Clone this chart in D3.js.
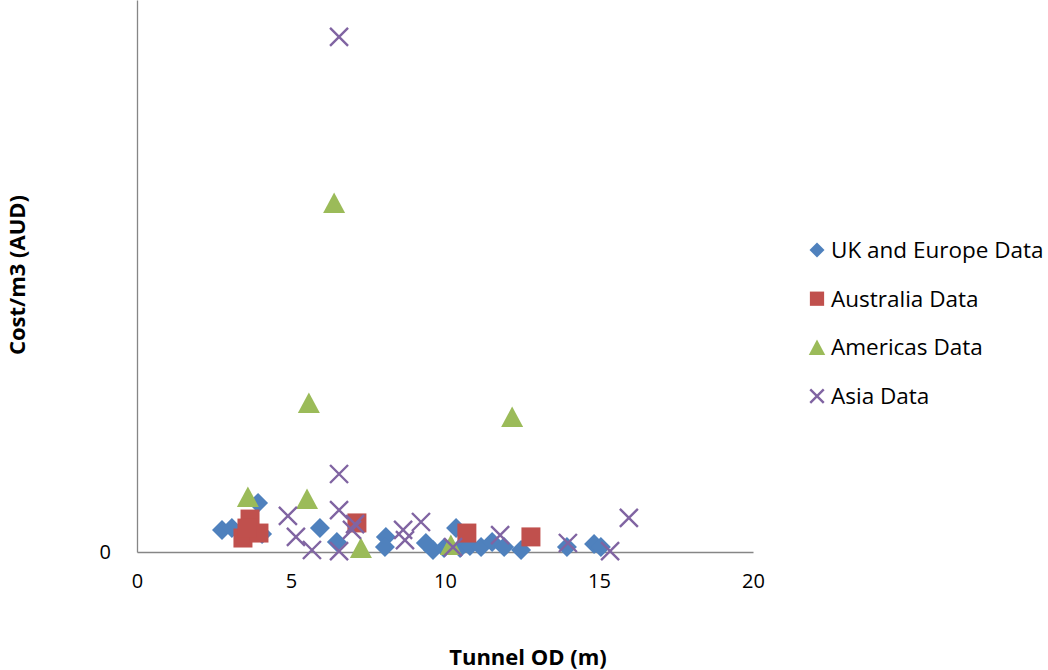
<!DOCTYPE html>
<html>
<head>
<meta charset="utf-8">
<script src="https://cdn.jsdelivr.net/npm/d3@7"></script>
<style>
  html, body { margin: 0; padding: 0; background: #fff; }
  svg { display: block; }
  text { font-family: "Open Sans", "Noto Sans", sans-serif; fill: #000; }
</style>
</head>
<body>
<svg id="chart" width="1048" height="670"></svg>
<script>
// Tunnel outside diameter (m) and cost per cubic metre (AUD), by region
const ukEuropeOD   = [2.76, 3.08, 3.93, 4.06, 5.94, 6.49, 8.08, 8.05, 9.38, 9.61, 9.97, 10.36, 10.49, 10.81, 11.17, 11.53, 11.92, 12.47, 13.96, 14.84, 15.06];
const ukEuropeCost = [120, 130, 266, 98, 130, 54, 82, 27, 49, 11, 22, 130, 22, 33, 27, 54, 27, 11, 27, 43, 27];

const australiaOD   = [3.44, 3.67, 3.96, 3.57, 7.14, 10.71, 12.79];
const australiaCost = [76, 179, 103, 130, 158, 103, 82];

const americasOD   = [6.40, 5.58, 12.18, 3.60, 5.52, 7.27, 10.19];
const americasCost = [1897, 810, 734, 299, 288, 22, 38];

const asiaOD   = [4.90, 5.16, 5.68, 6.56, 6.56, 6.56, 6.56, 6.98, 7.08, 8.64, 8.70, 9.22, 10.26, 11.79, 13.99, 15.36, 15.97];
const asiaCost = [196, 82, 11, 2800, 424, 228, 5, 120, 152, 120, 65, 163, 27, 92, 49, 5, 185];

const xTicks = [0, 5, 10, 15, 20];
const yTicks = [0];

const seriesNames = ["UK and Europe Data", "Australia Data", "Americas Data", "Asia Data"];
const seriesColors = ["#4F81BD", "#C0504D", "#9BBB59", "#8064A2"];

const series = [
  { name: seriesNames[0], color: seriesColors[0], shape: "diamond",  x: ukEuropeOD,  y: ukEuropeCost },
  { name: seriesNames[1], color: seriesColors[1], shape: "square",   x: australiaOD, y: australiaCost },
  { name: seriesNames[2], color: seriesColors[2], shape: "triangle", x: americasOD,  y: americasCost },
  { name: seriesNames[3], color: seriesColors[3], shape: "cross",    x: asiaOD,      y: asiaCost }
];

const svg = d3.select("#chart");
const plot = { left: 137, right: 753, top: 0, bottom: 552 };

const x = d3.scaleLinear().domain([0, 20]).range([plot.left, plot.right]);
const y = d3.scaleLinear().domain([0, 3000]).range([plot.bottom, plot.top]);

// marker path generators centred on the origin
function markerPath(shape, s) {
  switch (shape) {
    case "diamond":  return `M0,${-s}L${s},0L0,${s}L${-s},0Z`;
    case "square":   return `M${-s*0.95},${-s*0.95}H${s*0.95}V${s*0.95}H${-s*0.95}Z`;
    case "triangle": return `M0,${-s*1.05}L${s*1.1},${s*1.0}L${-s*1.1},${s*1.0}Z`;
    case "cross":    return `M${-s*0.9},${-s*0.9}L${s*0.9},${s*0.9}M${s*0.9},${-s*0.9}L${-s*0.9},${s*0.9}`;
  }
}

function drawMarker(g, shape, color, s) {
  const p = g.append("path").attr("d", markerPath(shape, s));
  if (shape === "cross") {
    p.attr("fill", "none").attr("stroke", color).attr("stroke-width", 2.4);
  } else {
    p.attr("fill", color);
  }
  return p;
}

// axes
const xAxis = d3.axisBottom(x).tickValues(xTicks).tickSize(0).tickPadding(22).tickFormat(d3.format("d"));
const yAxis = d3.axisLeft(y).tickValues(yTicks).tickSize(0).tickPadding(26).tickFormat(d3.format("d"));

const gx = svg.append("g").attr("transform", `translate(0,${plot.bottom})`).call(xAxis);
const gy = svg.append("g").attr("transform", `translate(${plot.left},0)`).call(yAxis);
[gx, gy].forEach(g => {
  g.select(".domain").attr("stroke", "#868686").attr("stroke-width", 1.3);
  g.selectAll("text").attr("font-size", 20).attr("fill", "#000")
    .style("font-family", '"Open Sans", sans-serif');
});

// markers
series.forEach(sr => {
  const g = svg.append("g");
  sr.x.forEach((xv, i) => {
    const m = g.append("g").attr("transform", `translate(${x(xv)},${y(sr.y[i])})`);
    drawMarker(m, sr.shape, sr.color, 10);
  });
});

// axis titles
svg.append("text")
  .attr("x", 528).attr("y", 665)
  .attr("text-anchor", "middle")
  .attr("font-size", 22).attr("font-weight", "bold")
  .text("Tunnel OD (m)");

svg.append("text")
  .attr("transform", "translate(25,275) rotate(-90)")
  .attr("text-anchor", "middle")
  .attr("font-size", 22).attr("font-weight", "bold")
  .text("Cost/m3 (AUD)");

// legend
const legend = svg.append("g");
series.forEach((sr, i) => {
  const ly = 250 + i * 48.7;
  const m = legend.append("g").attr("transform", `translate(817,${ly})`);
  drawMarker(m, sr.shape, sr.color, 7.5);
  legend.append("text")
    .attr("x", 831).attr("y", ly + 8)
    .attr("font-size", 22.5)
    .text(sr.name);
});
</script>
</body>
</html>
